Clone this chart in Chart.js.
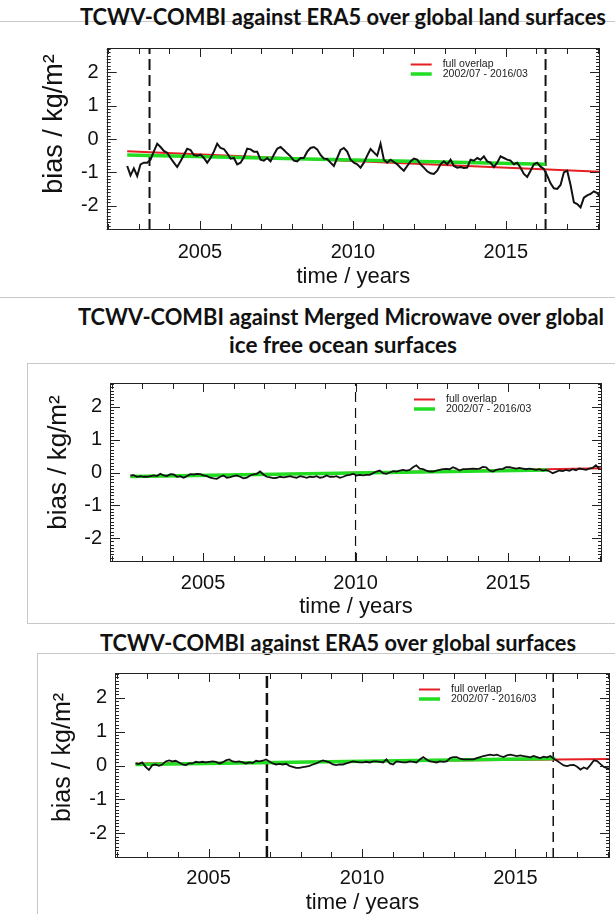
<!DOCTYPE html>
<html>
<head>
<meta charset="utf-8">
<script src="https://cdn.jsdelivr.net/npm/chart.js@4.4.1/dist/chart.umd.min.js"></script>
<style>
html, body { margin: 0; padding: 0; background: #fff; width: 615px; height: 914px; overflow: hidden; position: relative; }
.hl { position: absolute; height: 1px; background: #c8c8c8; }
.vl { position: absolute; width: 1px; background: #c8c8c8; }
.ttl { position: absolute; font-family: Lato, "Open Sans", sans-serif; font-weight: 700; font-size: 23px; line-height: 23px; white-space: nowrap; color: #111; transform-origin: left center; }
canvas { position: absolute; left: 0; }
</style>
</head>
<body>
<div class="hl" style="left:0;top:21px;width:615px"></div>
<div class="ttl" data-w="526" style="left:80px;top:5px">TCWV-COMBI against ERA5 over global land surfaces</div>
<div class="hl" style="left:0;top:297px;width:615px"></div>

<div class="ttl" data-w="526" style="left:78px;top:305px">TCWV-COMBI against Merged Microwave over global</div>
<div class="ttl" data-w="228" style="left:229px;top:333px">ice free ocean surfaces</div>
<div class="hl" style="left:27px;top:363px;width:588px"></div>
<div class="vl" style="left:27px;top:363px;height:260px"></div>
<div class="hl" style="left:27px;top:623px;width:588px"></div>

<div class="ttl" data-w="476" style="left:100px;top:631px">TCWV-COMBI against ERA5 over global surfaces</div>
<div class="hl" style="left:37px;top:653px;width:578px"></div>
<div class="vl" style="left:37px;top:653px;height:261px"></div>

<canvas id="land" width="615" height="272" style="top:28px"></canvas>
<canvas id="ocean" width="615" height="270" style="top:363px"></canvas>
<canvas id="global" width="615" height="265" style="top:653px"></canvas>

<script>
// sample times of the bias curves (decimal years)
const sampleStart = 2002.62;
const sampleStep = 0.109;

// TCWV-COMBI minus ERA5, land
const landBias = [
  -0.81, -1.09, -0.88, -1.11, -0.76, -0.71, -0.71, -0.62, -0.37, -0.14,
  -0.24, -0.36, -0.41, -0.57, -0.71, -0.84, -0.67, -0.48, -0.29, -0.33,
  -0.48, -0.50, -0.47, -0.57, -0.71, -0.57, -0.38, -0.14, -0.27, -0.30,
  -0.43, -0.59, -0.57, -0.76, -0.71, -0.55, -0.29, -0.31, -0.38, -0.38,
  -0.62, -0.65, -0.57, -0.67, -0.47, -0.29, -0.24, -0.33, -0.43, -0.52,
  -0.65, -0.67, -0.57, -0.57, -0.38, -0.27, -0.24, -0.31, -0.48, -0.59,
  -0.60, -0.71, -0.81, -0.57, -0.33, -0.27, -0.38, -0.62, -0.71, -0.76,
  -0.86, -0.71, -0.50, -0.30, -0.40, -0.50, -0.14, -0.62, -0.71, -0.62,
  -0.69, -0.76, -0.86, -0.95, -0.81, -0.67, -0.59, -0.62, -0.76, -0.86,
  -0.97, -1.03, -1.05, -0.95, -0.76, -0.67, -0.76, -0.62, -0.81, -0.86,
  -0.84, -0.87, -0.86, -0.62, -0.65, -0.57, -0.62, -0.52, -0.67, -0.71,
  -0.84, -0.71, -0.52, -0.57, -0.62, -0.65, -0.76, -0.71, -0.86, -1.05,
  -1.14, -0.95, -0.76, -0.71, -0.83, -0.90, -1.10, -1.33, -1.48, -1.50,
  -1.38, -1.00, -0.95, -1.38, -1.90, -1.95, -2.05, -1.76, -1.69, -1.65,
  -1.57, -1.62, -1.76
];

// TCWV-COMBI minus merged microwave, ice free ocean
const oceanBias = [
  -0.09, -0.08, -0.13, -0.11, -0.13, -0.13, -0.11, -0.09, -0.11, -0.04,
  -0.09, -0.11, -0.05, -0.06, -0.13, -0.11, -0.16, -0.11, -0.05, -0.06,
  -0.04, -0.05, -0.09, -0.11, -0.16, -0.18, -0.19, -0.13, -0.09, -0.16,
  -0.14, -0.11, -0.09, -0.13, -0.18, -0.16, -0.09, -0.06, -0.04, 0.03,
  -0.06, -0.13, -0.15, -0.17, -0.16, -0.13, -0.15, -0.13, -0.11, -0.14,
  -0.16, -0.11, -0.13, -0.16, -0.13, -0.14, -0.11, -0.16, -0.14, -0.09,
  -0.13, -0.13, -0.11, -0.16, -0.13, -0.09, -0.07, -0.04, -0.09, -0.07,
  -0.09, -0.07, -0.07, -0.02, 0.03, 0.06, -0.02, -0.04, 0.00, 0.04,
  0.03, 0.06, 0.08, 0.06, 0.08, 0.16, 0.22, 0.12, 0.10, 0.06,
  0.03, 0.03, 0.06, 0.08, 0.10, 0.11, 0.10, 0.16, 0.12, 0.06,
  0.10, 0.10, 0.11, 0.12, 0.11, 0.12, 0.17, 0.16, 0.06, 0.03,
  0.08, 0.10, 0.11, 0.16, 0.16, 0.14, 0.12, 0.14, 0.12, 0.10,
  0.12, 0.10, 0.08, 0.10, 0.06, 0.08, 0.04, -0.02, 0.02, 0.06,
  0.04, 0.08, 0.05, 0.10, 0.07, 0.12, 0.10, 0.08, 0.12, 0.14,
  0.22, 0.12
];

// TCWV-COMBI minus ERA5, all surfaces
const globalBias = [
  0.06, 0.04, 0.09, -0.04, -0.13, 0.01, 0.03, -0.01, 0.03, 0.12,
  0.15, 0.12, 0.14, 0.09, 0.03, 0.01, 0.06, 0.06, 0.11, 0.09,
  0.11, 0.09, 0.11, 0.12, 0.11, 0.06, 0.09, 0.15, 0.18, 0.12,
  0.11, 0.12, 0.09, 0.06, 0.09, 0.07, 0.14, 0.12, 0.14, 0.18,
  0.12, 0.06, 0.03, 0.05, 0.03, 0.05, -0.01, -0.04, -0.07, -0.07,
  -0.05, -0.03, -0.01, 0.03, 0.06, 0.11, 0.15, 0.12, 0.09, 0.03,
  0.01, 0.03, 0.03, 0.06, 0.09, 0.12, 0.11, 0.09, 0.09, 0.11,
  0.09, 0.12, 0.12, 0.11, 0.09, 0.18, 0.06, 0.03, 0.12, 0.11,
  0.09, 0.09, 0.12, 0.11, 0.09, 0.18, 0.25, 0.18, 0.12, 0.11,
  0.09, 0.12, 0.11, 0.12, 0.22, 0.25, 0.25, 0.20, 0.18, 0.18,
  0.18, 0.18, 0.22, 0.25, 0.28, 0.30, 0.32, 0.30, 0.32, 0.28,
  0.25, 0.30, 0.32, 0.30, 0.28, 0.30, 0.28, 0.26, 0.24, 0.28,
  0.25, 0.22, 0.26, 0.24, 0.28, 0.20, 0.14, 0.07, 0.00, -0.02,
  0.01, 0.02, -0.04, -0.12, -0.06, -0.10, 0.02, 0.15, 0.13, 0.04,
  -0.04, -0.08, -0.10
];

// linear fits: [start, end]
const fullTrendYears = [2002.62, 2018.08];
const subTrendYears = [2002.62, 2016.3];
const landFullTrend = [-0.37, -0.98];
const landSubTrend = [-0.48, -0.76];
const oceanFullTrend = [-0.13, 0.13];
const oceanSubTrend = [-0.12, 0.08];
const globalFullTrend = [0.06, 0.19];
const globalSubTrend = [0.03, 0.21];

// dashed markers (decimal years)
const landBreaks = [2003.35, 2016.3];
const oceanBreaks = [2010.0];
const globalBreaks = [2006.9, 2016.23];

const yearLabels = [2005, 2010, 2015];
const biasLabels = [-2, -1, 0, 1, 2];
const legendLabels = ['full overlap', '2002/07 - 2016/03'];
const yTitle = 'bias / kg/m\u00b2';

const xMin = 2001.95, xMax = 2018.08;
const yMin = -2.73, yMax = 2.73;

const RED = '#e41e22';
const GREEN = '#22dd22';
const INK = '#111';
const FONT = '"Liberation Sans", Arial, Helvetica, sans-serif';

// frame, inward ticks, y title and the small legend
const framePlugin = {
  id: 'frame',
  afterDatasetsDraw(chart, args, opts) {
    const { ctx, chartArea: a, scales: { x, y } } = chart;
    ctx.save();
    ctx.strokeStyle = '#222';
    ctx.lineWidth = 1;
    ctx.beginPath();
    for (let yr = Math.ceil(x.min); yr <= Math.floor(x.max); yr++) {
      const px = Math.round(x.getPixelForValue(yr)) + 0.5;
      const len = yr % 5 === 0 ? 9 : 6;
      ctx.moveTo(px, a.bottom); ctx.lineTo(px, a.bottom - len);
      ctx.moveTo(px, a.top); ctx.lineTo(px, a.top + len);
    }
    for (let k = Math.ceil(y.min * 10); k <= Math.floor(y.max * 10); k++) {
      const py = Math.round(y.getPixelForValue(k / 10)) + 0.5;
      const len = k % 10 === 0 ? 10 : 4;
      ctx.moveTo(a.left, py); ctx.lineTo(a.left + len, py);
      ctx.moveTo(a.right, py); ctx.lineTo(a.right - len, py);
    }
    ctx.stroke();
    ctx.strokeRect(Math.round(a.left) + 0.5, Math.round(a.top) + 0.5,
                   Math.round(a.width) - 1, Math.round(a.height) - 1);

    // y axis title
    ctx.save();
    ctx.fillStyle = INK;
    ctx.font = opts.ySize + 'px ' + FONT;
    ctx.textAlign = 'center';
    ctx.textBaseline = 'middle';
    ctx.translate(opts.yX, (a.top + a.bottom) / 2 + opts.yDy);
    ctx.rotate(-Math.PI / 2);
    ctx.fillText(yTitle, 0, 0);
    ctx.restore();

    // legend
    ctx.font = '10.5px ' + FONT;
    ctx.textBaseline = 'middle';
    ctx.fillStyle = '#222';
    chart.data.datasets.filter(d => d.legendRow !== undefined).forEach(d => {
      const ly = a.top + 16.5 + d.legendRow * 9.5;
      ctx.strokeStyle = d.borderColor;
      ctx.lineWidth = d.borderWidth;
      ctx.beginPath();
      ctx.moveTo(a.left + 304, ly);
      ctx.lineTo(a.left + 325, ly);
      ctx.stroke();
      ctx.fillText(legendLabels[d.legendRow], a.left + 336, ly);
    });
    ctx.restore();
  }
};

function makePanel(id, bias, fullTrend, subTrend, breaks, lay) {
  const series = bias.map((v, i) => ({ x: sampleStart + i * sampleStep, y: v }));
  const datasets = [
    { data: series, borderColor: INK, borderWidth: lay.lw },
    { data: subTrendYears.map((t, i) => ({ x: t, y: subTrend[i] })),
      borderColor: GREEN, borderWidth: 3.5, legendRow: 1 },
    { data: fullTrendYears.map((t, i) => ({ x: t, y: fullTrend[i] })),
      borderColor: RED, borderWidth: 2, legendRow: 0 }
  ];
  breaks.forEach((b, i) => {
    datasets.push({
      data: [{ x: b, y: yMin }, { x: b, y: yMax }],
      borderColor: INK, borderWidth: lay.dashW[i], borderDash: lay.dash[i]
    });
  });

  new Chart(document.getElementById(id), {
    type: 'line',
    data: { datasets },
    plugins: [framePlugin],
    options: {
      responsive: false,
      animation: false,
      devicePixelRatio: 1,
      layout: { padding: lay.pad },
      elements: { point: { radius: 0 }, line: { tension: 0 } },
      plugins: {
        legend: { display: false }, tooltip: { enabled: false }, title: { display: false },
        frame: lay.ytitle
      },
      scales: {
        x: {
          type: 'linear', min: xMin, max: xMax,
          grid: { display: false, drawTicks: false },
          border: { display: false },
          afterBuildTicks: s => { s.ticks = yearLabels.map(v => ({ value: v })); },
          afterFit: s => { s.height = lay.xh; },
          ticks: { padding: lay.xpad, color: INK, maxRotation: 0, autoSkip: false,
                   font: { family: FONT, size: 20 }, callback: v => String(v) },
          title: { display: true, text: 'time / years', color: INK,
                   font: { family: FONT, size: 22 }, padding: { top: 0, bottom: 0 } }
        },
        y: {
          type: 'linear', min: yMin, max: yMax,
          grid: { display: false, drawTicks: false },
          border: { display: false },
          afterBuildTicks: s => { s.ticks = biasLabels.map(v => ({ value: v })); },
          afterFit: s => { s.width = lay.yw; },
          ticks: { padding: 8, color: INK, font: { family: FONT, size: 20 }, callback: v => String(v) }
        }
      }
    }
  });
}

makePanel('land', landBias, landFullTrend, landSubTrend, landBreaks, {
  pad: { left: 40.6, right: 15, top: 11.3, bottom: 9.8 }, yw: 66.1, xh: 60.2, xpad: 10,
  lw: 2, dashW: [2, 2], dash: [[11, 5], [11, 5]],
  ytitle: { yX: 55, yDy: -15, ySize: 27 }
});
makePanel('ocean', oceanBias, oceanFullTrend, oceanSubTrend, oceanBreaks, {
  pad: { left: 44.6, right: 13, top: 8, bottom: 12.8 }, yw: 65.4, xh: 58.2, xpad: 9,
  lw: 1.8, dashW: [1.2], dash: [[10, 6]],
  ytitle: { yX: 59, yDy: -10, ySize: 26 }
});
makePanel('global', globalBias, globalFullTrend, globalSubTrend, globalBreaks, {
  pad: { left: 48.6, right: 5, top: 15, bottom: 1.8 }, yw: 66.4, xh: 58.2, xpad: 8,
  lw: 1.8, dashW: [2.5, 1.5], dash: [[12, 5], [10, 6]],
  ytitle: { yX: 63, yDy: -8, ySize: 25 }
});

// squeeze the slide titles to their measured widths
function fitTitles() {
  document.querySelectorAll('.ttl').forEach(el => {
    el.style.transform = 'none';
    const w = el.getBoundingClientRect().width;
    el.style.transform = 'scaleX(' + (el.dataset.w / w) + ')';
  });
}
fitTitles();
if (document.fonts) document.fonts.ready.then(fitTitles);
</script>
</body>
</html>
